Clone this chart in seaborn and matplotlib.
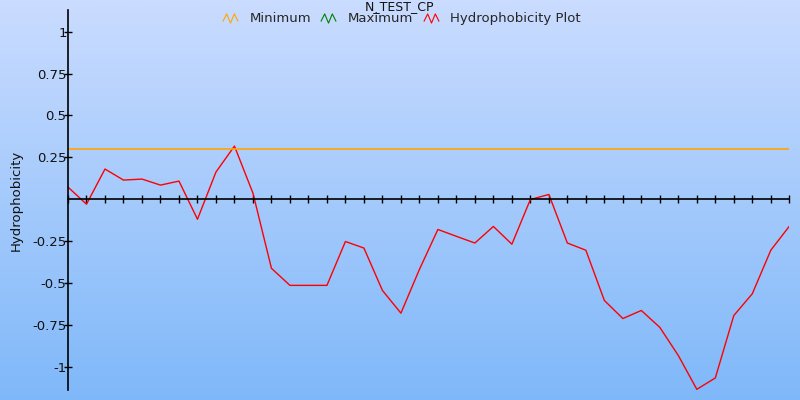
import numpy as np
import pandas as pd
import matplotlib
matplotlib.use('Agg')
import matplotlib.pyplot as plt
from matplotlib.lines import Line2D
from matplotlib.path import Path
import seaborn as sns

# Data
positions = list(range(40))
hydrophobicity = [0.072, -0.03, 0.18, 0.114, 0.12, 0.084, 0.108, -0.12, 0.162, 0.317,
                  0.036, -0.413, -0.515, -0.515, -0.515, -0.253, -0.292, -0.545, -0.681, -0.42,
                  -0.181, -0.222, -0.262, -0.163, -0.269, -0.002, 0.028, -0.262, -0.305, -0.605,
                  -0.713, -0.665, -0.766, -0.934, -1.136, -1.068, -0.695, -0.565, -0.305, -0.162]
minimum_value = 0.3
y_ticks = [-1, -0.75, -0.5, -0.25, 0.25, 0.5, 0.75, 1]
y_tick_labels = ['-1', '-0.75', '-0.5', '-0.25', '0.25', '0.5', '0.75', '1']
legend_labels = ['Minimum', 'Maximum', 'Hydrophobicity Plot']
legend_colors = ['orange', 'green', 'red']

sns.set_theme(style='ticks')
plt.rcParams['font.family'] = ['DejaVu Sans']

fig = plt.figure(figsize=(8, 4), dpi=100)

# background gradient
bg = fig.add_axes([0, 0, 1, 1], zorder=0)
grad = np.linspace(0, 1, 256).reshape(-1, 1)
cmap = matplotlib.colors.LinearSegmentedColormap.from_list('bg', ['#cadcff', '#7fb8f9'])
bg.imshow(grad, aspect='auto', cmap=cmap, extent=[0, 1, 0, 1])
bg.axis('off')

ax = fig.add_axes([68 / 800, 10 / 400, (789.3 - 68) / 800, 380 / 400], zorder=1)
ax.patch.set_alpha(0)

df = pd.DataFrame({'pos': positions, 'value': hydrophobicity})
sns.lineplot(data=df, x='pos', y='value', color='red', linewidth=1.0, ax=ax)
ax.axhline(minimum_value, color='orange', linewidth=1.2)

ax.set_xlim(0, 39)
ax.set_ylim(-1.14, 1.13)
ax.set_xticks(positions)
ax.set_xticklabels([])
ax.set_yticks(y_ticks)
ax.set_yticklabels(y_tick_labels, fontsize=9.5, color='#111111')
ax.set_xlabel('')
ax.set_ylabel('Hydrophobicity', fontsize=9.5, color='#111111', labelpad=7)

for side in ['top', 'right']:
    ax.spines[side].set_visible(False)
ax.spines['bottom'].set_position(('data', 0))
ax.spines['left'].set_linewidth(1.2)
ax.spines['bottom'].set_linewidth(1.2)
ax.spines['left'].set_color('black')
ax.spines['bottom'].set_color('black')
ax.tick_params(axis='both', direction='inout', length=6, width=1, color='black', pad=-2)
ax.tick_params(axis='x', pad=0)

# zigzag legend icons
zig = Path([(-1, -0.4), (-0.5, 0.6), (0, -0.6), (0.5, 0.6), (1, -0.4)],
           [Path.MOVETO, Path.LINETO, Path.LINETO, Path.LINETO, Path.LINETO])
handles = [Line2D([], [], linestyle='none', marker=zig, markersize=11, markerfacecolor='none',
                  markeredgecolor=c, markeredgewidth=0.8) for c in legend_colors]
fig.legend(handles, legend_labels, loc='center', bbox_to_anchor=(0.5, 0.953), ncol=3,
           frameon=False, fontsize=9.5, handlelength=1.6, handletextpad=0.7,
           columnspacing=0.5, borderpad=0)

fig.text(0.5, 1.0, 'N_TEST_CP', ha='center', va='top', fontsize=9, color='#111111')

fig.savefig('out.png', dpi=100)
